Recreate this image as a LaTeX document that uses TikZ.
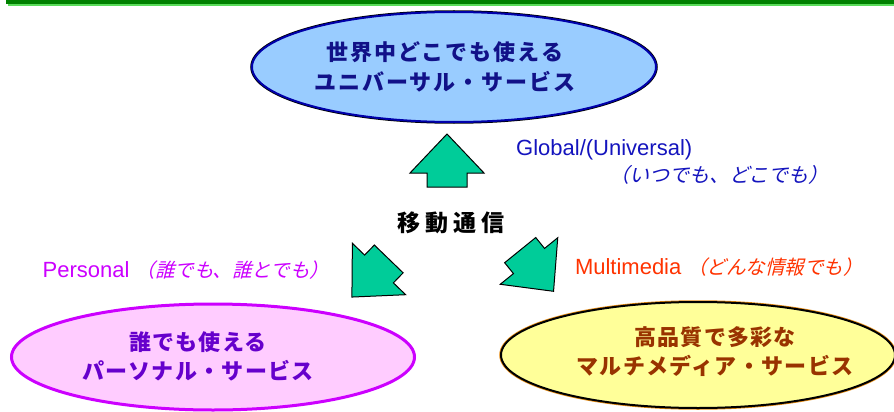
\documentclass[tikz,border=0pt]{standalone}
\usepackage{fontspec}
\setmainfont{Liberation Sans}
\newfontfamily\jpb[LetterSpace=6]{Noto Sans CJK JP}
\newfontfamily\jpt[LetterSpace=9]{Noto Sans CJK JP}
\newfontfamily\jpc[LetterSpace=22]{Noto Sans CJK JP}
\newfontfamily\jpi[FakeSlant=0.25]{Noto Sans CJK JP}
\usetikzlibrary{shapes.geometric}
\definecolor{barDark}{RGB}{0,128,0}
\definecolor{barLight}{RGB}{90,220,90}
\definecolor{arrFill}{RGB}{0,204,153}
\definecolor{topFill}{RGB}{153,204,255}
\definecolor{topDraw}{RGB}{0,0,170}
\definecolor{topText}{RGB}{17,17,136}
\definecolor{globText}{RGB}{20,20,190}
\definecolor{persText}{RGB}{204,0,255}
\definecolor{leftFill}{RGB}{255,204,255}
\definecolor{leftDraw}{RGB}{204,0,255}
\definecolor{leftText}{RGB}{102,0,204}
\definecolor{multText}{RGB}{255,51,0}
\definecolor{rightFill}{RGB}{255,255,153}
\definecolor{rightHalo}{RGB}{230,140,20}
\definecolor{rightText}{RGB}{153,51,0}
\begin{document}
\begin{tikzpicture}[x=1pt,y=-1pt,
  ell/.style={ellipse, inner sep=0pt},
  arr/.style={draw=black, line width=1pt, fill=arrFill, line join=miter},
  blockarrow/.pic={\path[arr] (0,-39)--(37,0)--(20,0)--(20,14)--(-20,14)--(-20,0)--(-37,0)--cycle;},
  bigtxt/.style={align=center, inner sep=0pt, font=\jpb\bfseries\fontsize{22}{29}\selectfont},
  smalltxt/.style={inner sep=0pt, font=\fontsize{22}{26}\selectfont},
  jpital/.style={}]
\clip (0,0) rectangle (894,412);
\fill[white] (0,0) rectangle (894,412);
% top bar
\fill[barLight] (8,3) rectangle (894,6.5);
\fill[barDark] (6,0) rectangle (894,4);
% ellipses
\node[ell, minimum width=404pt, minimum height=110pt, fill=topFill, draw=topDraw, line width=2pt,
  preaction={draw=black, line width=3.5pt}] (top) at (454,67) {};
\node[ell, minimum width=403pt, minimum height=106pt, fill=leftFill, draw=leftDraw, line width=3pt] (left) at (213,357) {};
\node[ell, minimum width=394pt, minimum height=106pt, fill=rightFill, draw=black, line width=2pt,
  preaction={draw=rightHalo, line width=3.5pt}] (right) at (698,355) {};
% ellipse texts
\node[bigtxt, text=topText, font=\jpt\bfseries\fontsize{22}{30}\selectfont] (toptext) at (445,67) {世界中どこでも使える\\ユニバーサル・サービス};
\node[bigtxt, text=leftText] (lefttext) at (198,356) {誰でも使える\\パーソナル・サービス};
\node[bigtxt, text=rightText] (righttext) at (715,352) {高品質で多彩な\\マルチメディア・サービス};
% centre text
\node[inner sep=0pt, font=\jpc\bfseries\fontsize{23}{28}\selectfont] (center) at (451,223) {移動通信};
% block arrows
\path (447,173) pic {blockarrow};
\path (379,269) pic[rotate=136] {blockarrow};
\path (529,261) pic[rotate=-141] {blockarrow};
% labels
\node[smalltxt, text=globText, anchor=west] (glob) at (516,150) {Global/(Universal)};
\node[smalltxt, text=globText] (globjp) at (719,175) {\jpi\fontsize{20}{24}\selectfont （いつでも、どこでも）};
\node[smalltxt, text=persText] (pers) at (186,270) {Personal {\jpi\fontsize{19.5}{24}\selectfont （誰でも、誰とでも）}};
\node[smalltxt, text=multText] (mult) at (719,267) {Multimedia {\jpi\fontsize{19.5}{24}\selectfont （どんな情報でも）}};
\end{tikzpicture}
\end{document}
